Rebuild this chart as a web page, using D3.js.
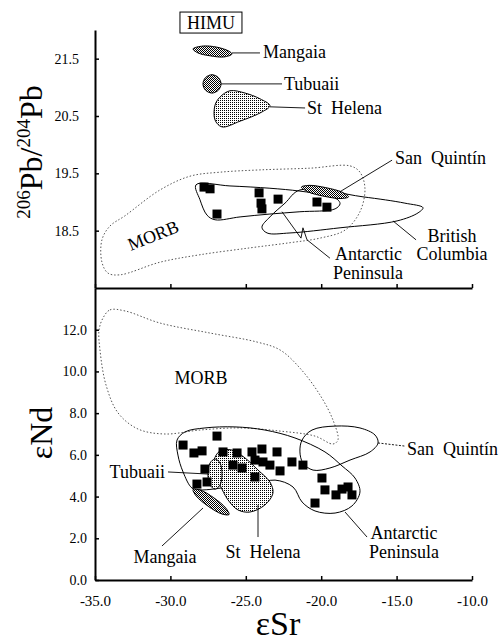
<!DOCTYPE html>
<html>
<head>
<meta charset="utf-8">
<script src="https://cdn.jsdelivr.net/npm/d3@7"></script>
<style>
body { margin: 0; background: #fff; }
svg text { font-family: "Liberation Serif", "Times New Roman", serif; fill: #000; }
</style>
</head>
<body>
<div id="svg-container"></div>
<script>
// Data (eSr, value) -------------------------------------------------------------------------------

// Upper panel: 206Pb/204Pb
const pbSamples = [
  [-27.77, 19.26], [-27.37, 19.23], [-26.91, 18.79], [-24.12, 19.16], [-23.99, 18.98],
  [-23.93, 18.88], [-22.86, 19.05], [-20.28, 19.00], [-19.62, 18.91]
];
const pbMorb = [
  [-34.54, 18.34], [-34.01, 18.58], [-33.01, 18.76], [-30.69, 19.21], [-28.70, 19.45],
  [-26.71, 19.52], [-24.06, 19.56], [-20.74, 19.59], [-18.09, 19.63], [-17.43, 19.52],
  [-17.10, 19.24], [-17.43, 18.83], [-18.42, 18.51], [-20.08, 18.37], [-22.07, 18.29],
  [-24.72, 18.20], [-28.04, 18.08], [-30.69, 17.95], [-33.34, 17.73], [-34.14, 17.76],
  [-34.54, 17.95]
];
const pbAntarctic = [
  [-28.30, 19.30], [-26.05, 19.28], [-23.40, 19.24], [-21.41, 19.19], [-19.75, 19.12],
  [-18.95, 19.05], [-18.75, 18.97], [-19.08, 18.88], [-21.41, 18.83], [-23.40, 18.79],
  [-25.38, 18.74], [-27.04, 18.69], [-27.57, 18.77], [-28.04, 19.04]
];
const pbBritishColumbia = [
  [-21.41, 19.21], [-17.23, 19.09], [-14.45, 18.98], [-13.25, 18.90], [-13.58, 18.81],
  [-14.97, 18.67], [-18.75, 18.55], [-22.07, 18.46], [-23.59, 18.46], [-23.93, 18.56],
  [-23.40, 18.74], [-22.40, 18.98]
];
const pbSanQuintin = [
  [-18.19, 19.09], [-18.69, 19.06], [-19.81, 19.10], [-20.90, 19.18],
  [-21.31, 19.26], [-20.80, 19.29], [-19.69, 19.25], [-18.60, 19.17]
];
const pbMangaia = [
  [-28.50, 21.67], [-27.84, 21.72], [-26.91, 21.70], [-26.11, 21.63],
  [-25.92, 21.58], [-26.45, 21.53], [-27.37, 21.55], [-28.17, 21.60]
];
const pbTubuaii = [
  [-26.64, 21.06], [-26.82, 20.95], [-27.24, 20.90], [-27.67, 20.95],
  [-27.84, 21.06], [-27.67, 21.17], [-27.24, 21.22], [-26.82, 21.17]
];
const pbStHelena = [
  [-26.71, 20.83], [-26.05, 20.94], [-25.05, 20.90], [-24.06, 20.80], [-23.40, 20.68],
  [-23.93, 20.57], [-25.38, 20.41], [-26.58, 20.31], [-27.04, 20.43], [-27.04, 20.69]
];

// Lower panel: eNd
const ndSamples = [
  [-29.16, 6.47], [-28.44, 6.09], [-27.90, 6.19], [-26.91, 6.90], [-27.71, 5.32],
  [-28.24, 4.60], [-27.57, 4.70], [-26.51, 6.14], [-25.58, 6.09], [-25.85, 5.51],
  [-25.25, 5.37], [-24.39, 4.94], [-24.59, 6.14], [-23.93, 6.28], [-22.93, 6.14],
  [-24.39, 5.75], [-23.86, 5.66], [-23.40, 5.51], [-22.73, 5.23], [-21.94, 5.66],
  [-21.21, 5.51], [-19.95, 4.89], [-19.75, 4.32], [-19.02, 4.08], [-18.62, 4.36],
  [-18.22, 4.46], [-17.96, 4.08], [-20.41, 3.69]
];
const ndMorb = [
  [-34.47, 12.56], [-34.01, 12.95], [-33.01, 12.90], [-30.69, 12.32], [-27.37, 11.84],
  [-24.26, 11.41], [-22.73, 11.03], [-21.41, 10.16], [-20.08, 8.87], [-19.22, 7.67],
  [-18.89, 6.71], [-19.22, 6.52], [-20.41, 6.90], [-22.73, 7.14], [-25.38, 7.29],
  [-28.04, 7.19], [-30.36, 7.00], [-32.15, 7.24], [-33.47, 8.01], [-34.27, 9.35],
  [-34.67, 11.03], [-34.73, 11.99]
];
const ndSanQuintin = [
  [-21.27, 6.71], [-20.61, 7.19], [-19.08, 7.38], [-17.43, 7.29], [-16.43, 6.95],
  [-16.23, 6.57], [-16.76, 6.14], [-18.09, 5.75], [-19.42, 5.37], [-20.54, 5.27],
  [-21.21, 5.61], [-21.41, 6.14]
];
const ndAntarctic = [
  [-29.56, 6.71], [-29.03, 7.10], [-27.71, 7.29], [-25.72, 7.34], [-23.73, 7.19],
  [-21.74, 6.81], [-19.75, 6.14], [-18.62, 5.47], [-17.76, 4.89], [-17.43, 4.22],
  [-17.96, 3.55], [-19.08, 3.21], [-20.41, 3.31], [-21.27, 3.74], [-21.87, 4.46],
  [-23.06, 4.79], [-24.39, 4.60], [-26.05, 4.46], [-28.04, 4.32], [-28.57, 4.41],
  [-29.16, 5.18], [-29.50, 5.99]
];
const ndTubuaii = [
  [-26.58, 5.08], [-26.71, 4.55], [-27.04, 4.36], [-27.37, 4.55],
  [-27.51, 5.08], [-27.37, 5.61], [-27.04, 5.80], [-26.71, 5.61]
];
const ndMangaia = [
  [-26.11, 3.14], [-26.60, 3.17], [-27.50, 3.54], [-28.29, 4.03],
  [-28.50, 4.34], [-28.02, 4.31], [-27.12, 3.94], [-26.33, 3.45]
];
const ndStHelena = [
  [-27.11, 5.75], [-26.71, 6.19], [-25.92, 6.23], [-25.05, 5.85], [-24.19, 5.27],
  [-23.40, 4.70], [-23.20, 4.17], [-23.73, 3.60], [-24.72, 3.26], [-25.52, 3.36],
  [-26.18, 3.84], [-26.71, 4.55], [-27.11, 5.18]
];

// Ticks
const srTicks = [-35, -30, -25, -20, -15, -10];
const pbTicks = [18.5, 19.5, 20.5, 21.5];
const ndTicks = [0, 2, 4, 6, 8, 10, 12];

// Labels and leader lines (data coords)
const pbLabels = [
  {text: "Mangaia", x: -23.86, y: 21.617, anchor: "start"},
  {text: "Tubuaii", x: -22.47, y: 21.06, anchor: "start"},
  {text: "St\u00a0\u00a0Helena", x: -20.94, y: 20.64, anchor: "start"},
  {text: "San\u00a0\u00a0Quint\u00edn", x: -15.11, y: 19.77, anchor: "start"},
  {text: "British", x: -11.33, y: 18.42, anchor: "middle"},
  {text: "Columbia", x: -11.33, y: 18.09, anchor: "middle"},
  {text: "Antarctic", x: -19.08, y: 18.09, anchor: "start"},
  {text: "Peninsula", x: -19.22, y: 17.76, anchor: "start"}
];
const pbLeaders = [
  [[-25.92, 21.60], [-24.06, 21.60]],
  [[-26.64, 21.06], [-22.60, 21.06]],
  [[-23.40, 20.66], [-21.07, 20.64]],
  [[-18.75, 19.18], [-15.30, 19.73]],
  [[-15.24, 18.67], [-13.71, 18.34]],
  [[-22.60, 18.83], [-21.34, 18.37], [-21.21, 18.55], [-20.94, 18.34], [-19.42, 18.02]]
];
const ndLabels = [
  {text: "MORB", x: -27.97, y: 9.69, anchor: "middle"},
  {text: "San\u00a0\u00a0Quint\u00edn", x: -14.31, y: 6.28, anchor: "start"},
  {text: "Tubuaii", x: -30.36, y: 5.18, anchor: "end"},
  {text: "Mangaia", x: -30.36, y: 1.10, anchor: "middle"},
  {text: "St\u00a0\u00a0Helena", x: -23.86, y: 1.34, anchor: "middle"},
  {text: "Antarctic", x: -14.51, y: 2.25, anchor: "middle"},
  {text: "Peninsula", x: -14.51, y: 1.34, anchor: "middle"}
];
const ndLeaders = [
  [[-30.16, 5.18], [-27.51, 5.08]],
  [[-27.84, 3.45], [-30.56, 1.63]],
  [[-24.19, 3.60], [-24.19, 2.06]],
  [[-18.42, 3.26], [-16.96, 2.06]]
];
const ndDashedLeader = [[-16.23, 6.57], [-14.45, 6.42]];

// Graph Dimensions ---------------------------------------------------------------------------------
const width = 503, height = 644;

const svg = d3.select("#svg-container").append("svg")
  .attr("width", width)
  .attr("height", height)
  .attr("font-family", "Liberation Serif, serif");

const x = d3.scaleLinear().domain([-35, -10]).range([95, 472]);
const yPb = d3.scaleLinear().domain([17.5, 22]).range([288, 30]);
const yNd = d3.scaleLinear().domain([0, 14]).range([580, 288]);

// Patterns -----------------------------------------------------------------------------------------
const defs = svg.append("defs");
const dense = defs.append("pattern").attr("id", "dense")
  .attr("width", 2).attr("height", 2).attr("patternUnits", "userSpaceOnUse");
dense.append("rect").attr("width", 2).attr("height", 2).attr("fill", "#fff");
dense.append("rect").attr("x", 0).attr("y", 0).attr("width", 1).attr("height", 1).attr("fill", "#000");
dense.append("rect").attr("x", 1).attr("y", 1).attr("width", 1).attr("height", 1).attr("fill", "#000");

const light = defs.append("pattern").attr("id", "light")
  .attr("width", 2).attr("height", 2).attr("patternUnits", "userSpaceOnUse");
light.append("rect").attr("width", 2).attr("height", 2).attr("fill", "#fff");
light.append("rect").attr("x", 0).attr("y", 0).attr("width", 1).attr("height", 1).attr("fill", "#000");

// Axes ---------------------------------------------------------------------------------------------
const styleAxis = (g, size) => {
  g.attr("font-family", "Liberation Serif, serif").attr("font-size", size);
  g.select(".domain").attr("stroke", "#000").attr("stroke-width", 2);
  g.selectAll(".tick line").attr("stroke", "#000").attr("stroke-width", 1.5);
  g.selectAll(".tick text").attr("fill", "#000");
};

svg.append("g").attr("transform", "translate(95,0)")
  .call(d3.axisLeft(yPb).tickValues(pbTicks).tickSizeInner(-4).tickSizeOuter(0)
    .tickPadding(16).tickFormat(d => d.toFixed(1)))
  .call(g => styleAxis(g, 14));

svg.append("g").attr("transform", "translate(95,0)")
  .call(d3.axisLeft(yNd).tickValues(ndTicks).tickSizeInner(-4).tickSizeOuter(0)
    .tickPadding(8).tickFormat(d => d.toFixed(1)))
  .call(g => styleAxis(g, 14));

svg.append("g").attr("transform", "translate(0,288)")
  .call(d3.axisBottom(x).tickValues(srTicks).tickSizeInner(-4).tickSizeOuter(0).tickFormat(""))
  .call(g => styleAxis(g, 15));

svg.append("g").attr("transform", "translate(0,580)")
  .call(d3.axisBottom(x).tickValues(srTicks).tickSizeInner(-4).tickSizeOuter(0)
    .tickPadding(15).tickFormat(d => d.toFixed(1)))
  .call(g => styleAxis(g, 15));

// Axis titles
const pbTitle = svg.append("text")
  .attr("transform", "translate(42,152) rotate(-90)")
  .attr("text-anchor", "middle")
  .attr("font-size", 32);
pbTitle.append("tspan").attr("font-size", 19).attr("dy", -12).text("206");
pbTitle.append("tspan").attr("dy", 12).text("Pb/");
pbTitle.append("tspan").attr("font-size", 19).attr("dy", -12).text("204");
pbTitle.append("tspan").attr("dy", 12).text("Pb");

svg.append("text")
  .attr("transform", "translate(52,433) rotate(-90)")
  .attr("text-anchor", "middle")
  .attr("font-size", 32)
  .text("\u03b5Nd");

svg.append("text")
  .attr("x", 278).attr("y", 635)
  .attr("text-anchor", "middle")
  .attr("font-size", 34)
  .text("\u03b5Sr");

// Regions ------------------------------------------------------------------------------------------
const outline = yScale => d3.line()
  .x(d => x(d[0]))
  .y(d => yScale(d[1]))
  .curve(d3.curveCatmullRomClosed.alpha(0.5));

const drawRegion = (pts, yScale, fill, dotted) => {
  svg.append("path")
    .attr("d", outline(yScale)(pts))
    .attr("fill", fill ? `url(#${fill})` : "none")
    .attr("stroke", dotted ? "#555" : "#000")
    .attr("stroke-width", 1)
    .attr("stroke-dasharray", dotted ? "1.5,2" : null);
};

drawRegion(pbMorb, yPb, null, true);
drawRegion(pbBritishColumbia, yPb, null, false);
drawRegion(pbAntarctic, yPb, null, false);
drawRegion(pbSanQuintin, yPb, "dense", false);
drawRegion(pbMangaia, yPb, "dense", false);
drawRegion(pbTubuaii, yPb, "dense", false);
drawRegion(pbStHelena, yPb, "light", false);

drawRegion(ndMorb, yNd, null, true);
drawRegion(ndSanQuintin, yNd, null, false);
drawRegion(ndAntarctic, yNd, null, false);
drawRegion(ndStHelena, yNd, "light", false);
drawRegion(ndMangaia, yNd, "dense", false);
drawRegion(ndTubuaii, yNd, "light", false);

// Data Points --------------------------------------------------------------------------------------
const drawSquares = (pts, yScale) => {
  svg.append("g").selectAll("rect")
    .data(pts)
    .enter()
    .append("rect")
    .attr("x", d => x(d[0]) - 4.5)
    .attr("y", d => yScale(d[1]) - 4.5)
    .attr("width", 9)
    .attr("height", 9)
    .attr("fill", "#000");
};
drawSquares(pbSamples, yPb);
drawSquares(ndSamples, yNd);

// Leaders & Labels ---------------------------------------------------------------------------------
const drawLeaders = (list, yScale, dash) => {
  const line = d3.line().x(d => x(d[0])).y(d => yScale(d[1]));
  list.forEach(pts => {
    svg.append("path")
      .attr("d", line(pts))
      .attr("fill", "none")
      .attr("stroke", "#000")
      .attr("stroke-width", 0.9)
      .attr("stroke-dasharray", dash);
  });
};
drawLeaders(pbLeaders, yPb, null);
drawLeaders(ndLeaders, yNd, null);
drawLeaders([ndDashedLeader], yNd, "2,1.5");

const drawLabels = (list, yScale) => {
  svg.append("g").selectAll("text")
    .data(list)
    .enter()
    .append("text")
    .attr("x", d => x(d.x))
    .attr("y", d => yScale(d.y))
    .attr("dy", "0.35em")
    .attr("text-anchor", d => d.anchor)
    .attr("font-size", 18)
    .text(d => d.text);
};
drawLabels(pbLabels, yPb);
drawLabels(ndLabels, yNd);

// Rotated MORB label in the upper panel
svg.append("text")
  .attr("transform", `translate(${x(-31.15)},${yPb(18.42)}) rotate(-22)`)
  .attr("dy", "0.35em")
  .attr("text-anchor", "middle")
  .attr("font-size", 18)
  .text("MORB");

// HIMU box
const himu = svg.append("g").attr("transform", `translate(${x(-27.31)},${yPb(22.13)})`);
himu.append("rect")
  .attr("x", -31).attr("y", -10.5).attr("width", 62).attr("height", 21)
  .attr("fill", "none").attr("stroke", "#000").attr("stroke-width", 1);
himu.append("text")
  .attr("dy", "0.35em")
  .attr("text-anchor", "middle")
  .attr("font-size", 18)
  .text("HIMU");
</script>
</body>
</html>
